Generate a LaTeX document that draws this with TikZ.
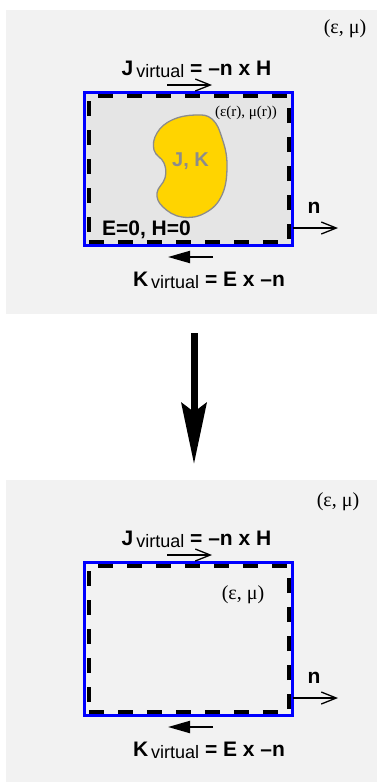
\documentclass[tikz,border=0pt]{standalone}
\usepackage{fontspec}
\setmainfont{Liberation Serif}
\setsansfont{Liberation Sans}
\usetikzlibrary{positioning}
\usetikzlibrary{arrows.meta}
\definecolor{panelgray}{HTML}{F2F2F2}
\definecolor{innergray}{HTML}{E5E5E5}
\definecolor{blobyellow}{HTML}{FFD400}
\definecolor{blobedge}{HTML}{8C8C8C}
\tikzset{
    panel/.style = {rectangle, fill=panelgray, inner sep=0pt, outer sep=0pt, minimum width=371pt},
    boundary/.style = {rectangle, draw=blue, line width=3pt, inner sep=0pt, outer sep=0pt,
        minimum width=208pt, minimum height=153pt},
    surface/.style = {rectangle, draw=black, line width=3.5pt, dash pattern=on 15pt off 14pt,
        inner sep=0pt, outer sep=0pt, minimum width=200pt, minimum height=146pt},
    current/.style = {font=\sffamily\bfseries\fontsize{21}{21}\selectfont, anchor=base, inner sep=0pt},
    medium/.style = {font=\fontsize{20}{20}\selectfont, inner sep=0pt},
    blob/.style = {fill=blobyellow, draw=blobedge, line width=1.3pt},
    flow/.style = {-{Straight Barb[length=15pt, width=12pt]}, line width=1.3pt},
    backflow/.style = {-{Triangle[length=22pt, width=12pt]}, line width=2pt},
    bigarrow/.style = {-{Stealth[length=61pt, width=25pt, inset=9pt]}, line width=7pt}}
\newcommand{\virt}{\kern3pt\raisebox{-2.5pt}{\mdseries\fontsize{18}{18}\selectfont virtual}}

\begin{document}
\begin{tikzpicture}[x=1pt, y=-1pt]
    \useasboundingbox (0,0) rectangle (377,782);
    \node[panel, minimum height=304pt] (panel1) at (191.5,162) {};
    \node[panel, minimum height=302pt] (panel2) at (191.5,631) {};

    % boundary, surface currents and normal, same in both panels
    \foreach \i/\dy/\inside in {1/0/innergray, 2/470/panelgray} {
        \node[boundary, fill=\inside] (box\i) at (188.5,169+\dy) {};
        \node[surface] (surf\i) at (188.75,169+\dy) {};
        \node[current] (jlabel\i) at (196.5,75+\dy) {J\virt{} = –n x H};
        \draw[flow] ([xshift=-21.5pt, yshift=7.5pt]box\i.north) -- ([xshift=23.5pt, yshift=7.5pt]box\i.north);
        \node[current] (normal\i) at (314,213+\dy) {n};
        \draw[flow] ([yshift=17.5pt]box\i.south east) -- ([xshift=45.5pt, yshift=17.5pt]box\i.south east);
        \draw[backflow] ([xshift=24.5pt, yshift=-11.5pt]box\i.south) -- ([xshift=-20.5pt, yshift=-11.5pt]box\i.south);
        \node[current] (klabel\i) at (209,286+\dy) {K\virt{} = E x –n};
    }

    % sources inside the closed surface
    \draw[blob] plot[smooth cycle, tension=0.7] coordinates {(157,133) (172,120) (195,115) (212,119)
        (222,138) (227,165) (222,195) (205,213) (182,217) (163,207) (157,193) (165,178) (164,163) (154,150)};
    \node[font=\sffamily\bfseries\fontsize{20}{20}\selectfont, text=blobedge] (sources) at (190.5,161) {J, K};
    \node[current] (zero) at (146.5,235) {E=0, H=0};

    \node[medium] (outer1) at (345,29) {(ε, μ)};
    \node[medium, font=\fontsize{15}{15}\selectfont] (inner1) at (246,113) {(ε(r), μ(r))};
    \node[medium] (outer2) at (338,501.5) {(ε, μ)};
    \node[medium] (inner2) at (243,595) {(ε, μ)};

    \draw[bigarrow, shorten <=19pt, shorten >=16pt] ([xshift=2.5pt]panel1.south) -- ([xshift=2.5pt]panel2.north);
\end{tikzpicture}
\end{document}
